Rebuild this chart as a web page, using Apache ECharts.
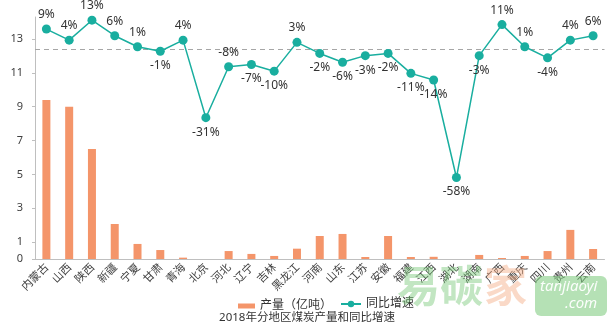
<!DOCTYPE html>
<html>
<head>
<meta charset="utf-8">
<script src="https://cdn.jsdelivr.net/npm/echarts@6/dist/echarts.min.js"></script>
<style>html,body{margin:0;padding:0;background:#fff;}#c{width:614px;height:327px;}</style>
</head>
<body>
<div id="c"></div>
<script>
var categories = ['内蒙古','山西','陕西','新疆','宁夏','甘肃','青海','北京','河北','辽宁','吉林','黑龙江','河南','山东','江苏','安徽','福建','江西','湖北','湖南','广西','重庆','四川','贵州','云南'];
var output = [9.4, 9.0, 6.5, 2.07, 0.89, 0.53, 0.08, 0, 0.47, 0.3, 0.18, 0.61, 1.36, 1.48, 0.12, 1.36, 0.12, 0.13, 0, 0.24, 0.06, 0.18, 0.47, 1.72, 0.59];
var growth = [9, 4, 13, 6, 1, -1, 4, -31, -8, -7, -10, 3, -2, -6, -3, -2, -11, -14, -58, -3, 11, 1, -4, 4, 6];
var yTickLabels = [0, 1, 3, 5, 7, 9, 11, 13];
var aboveLabelCats = ['河北'];

var FONT = "'Noto Sans', 'Noto Sans CJK SC', sans-serif";
var growthData = growth.map(function (v, i) {
  var up = v >= 0 || aboveLabelCats.indexOf(categories[i]) >= 0;
  return { value: v, label: { position: up ? 'top' : 'bottom' } };
});

var chart = echarts.init(document.getElementById('c'), null, { renderer: 'canvas' });
chart.setOption({
  animation: false,
  backgroundColor: '#fff',
  textStyle: { fontFamily: FONT },
  title: {
    text: '2018年分地区煤炭产量和同比增速',
    left: 'center', top: 312, padding: 0,
    textStyle: { fontSize: 11.5, fontWeight: 'normal', color: '#333', fontFamily: FONT }
  },
  legend: [{
    data: [{ name: '产量（亿吨）', icon: 'rect' }],
    left: 233, top: 295, itemWidth: 17, itemHeight: 5, itemGap: 6,
    textStyle: { fontSize: 12, color: '#333', fontFamily: FONT }
  }, {
    data: ['同比增速'],
    left: 335, top: 293, itemWidth: 20, itemHeight: 8,
    textStyle: { fontSize: 12, color: '#333', fontFamily: FONT }
  }],
  graphic: [
    { type: 'text', left: 397, top: 264, style: { text: '易碳', fontSize: 43, fontWeight: 'bold', fill: 'rgba(120,200,120,0.45)', fontFamily: "'Noto Sans CJK SC'" }, z: 100 },
    { type: 'text', left: 484, top: 264, style: { text: '家', fontSize: 43, fontWeight: 'bold', fill: 'rgba(245,170,130,0.45)', fontFamily: "'Noto Sans CJK SC'" }, z: 100 },
    { type: 'rect', left: 535, top: 276, shape: { width: 72, height: 40, r: 6 }, style: { fill: 'rgba(120,200,120,0.55)' }, z: 100 },
    { type: 'text', left: 540, top: 279, style: { text: 'tanjiaoyi', fontSize: 15, fontStyle: 'italic', fill: 'rgba(255,255,255,0.95)', fontFamily: FONT }, z: 101 },
    { type: 'text', left: 565, top: 296, style: { text: '.com', fontSize: 15, fontStyle: 'italic', fill: 'rgba(255,255,255,0.95)', fontFamily: FONT }, z: 101 }
  ],
  grid: { left: 35, right: 9.5, top: 17, bottom: 68, containLabel: false },
  xAxis: {
    type: 'category',
    data: categories,
    boundaryGap: true,
    axisLine: { lineStyle: { color: '#bfbfbf', width: 1 } },
    axisTick: { show: false },
    axisLabel: { interval: 0, rotate: 45, fontSize: 11, color: '#404040', margin: 6, fontFamily: "'Noto Sans CJK SC', sans-serif" }
  },
  yAxis: [{
    type: 'value', min: 0, max: 14.3,
    axisLine: { show: true, lineStyle: { color: '#bfbfbf' } },
    axisTick: { show: true, length: 3, customValues: yTickLabels, lineStyle: { color: '#bfbfbf' } },
    splitLine: { show: false },
    axisLabel: { fontSize: 11, color: '#404040', margin: 12, customValues: yTickLabels }
  }, {
    type: 'value', min: -94.77, max: 14.44, show: false,
    splitLine: { show: false }
  }],
  series: [{
    name: '产量（亿吨）',
    type: 'bar',
    data: output,
    barWidth: 8,
    itemStyle: { color: '#F4956A' },
    yAxisIndex: 0
  }, {
    name: '同比增速',
    type: 'line',
    yAxisIndex: 1,
    data: growthData,
    symbol: 'circle', symbolSize: 9,
    lineStyle: { color: '#19AE9F', width: 1.5 },
    itemStyle: { color: '#19AE9F' },
    label: {
      show: true, fontSize: 12, color: '#333', distance: 4,
      formatter: function (p) { return p.value + '%'; }
    },
    markLine: {
      silent: true, symbol: 'none', label: { show: false },
      lineStyle: { color: '#a6a6a6', type: [5, 4], width: 1 },
      data: [{ yAxis: 0 }]
    },
    z: 5
  }]
});
</script>
</body>
</html>
